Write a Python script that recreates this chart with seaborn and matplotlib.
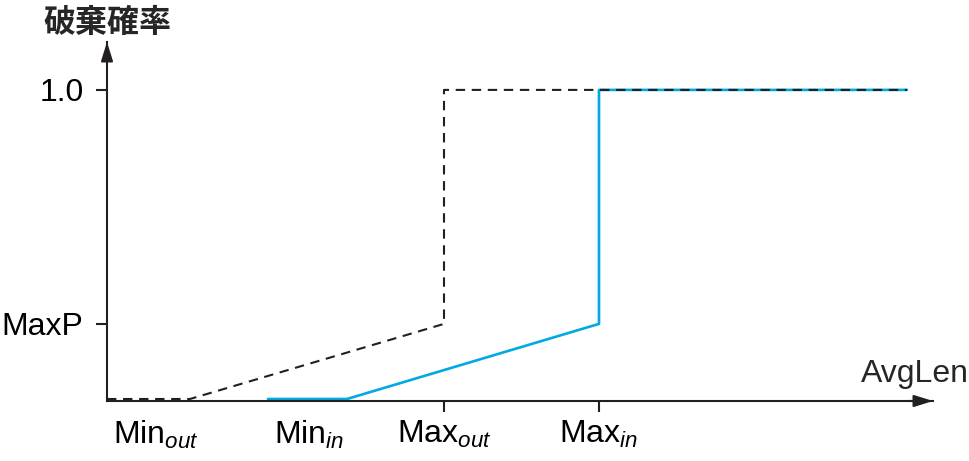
import matplotlib
matplotlib.use("Agg")
import matplotlib.pyplot as plt
import seaborn as sns
import pandas as pd

# schematic RED/RIO drop probability curves
max_p = 0.243
avglen_out = [0, 83, 337, 337, 800]
drop_out = [0, 0, max_p, 1.0, 1.0]
avglen_in = [161, 240, 492, 492, 800]
drop_in = [0, 0, max_p, 1.0, 1.0]

x_ticks = [337, 492]
x_ticklabels = [r'$\mathrm{Max}_{out}$', r'$\mathrm{Max}_{in}$']
x_min_pos = [49, 202]
x_min_labels = [r'$\mathrm{Min}_{out}$', r'$\mathrm{Min}_{in}$']
y_ticks = [max_p, 1.0]
y_ticklabels = ['MaxP', '1.0']

sns.set_style('white')
plt.rcParams['font.family'] = ['Liberation Sans', 'Noto Sans CJK JP', 'DejaVu Sans']
plt.rcParams['mathtext.fontset'] = 'custom'
plt.rcParams['mathtext.rm'] = 'Liberation Sans'
plt.rcParams['mathtext.it'] = 'Liberation Sans:italic'

ink = '#231f20'
blue = '#00a9e0'

df_out = pd.DataFrame({'AvgLen': avglen_out, 'p': drop_out})
df_in = pd.DataFrame({'AvgLen': avglen_in, 'p': drop_in})

fig = plt.figure(figsize=(9.7, 4.61), dpi=100)
ax = fig.add_axes([107 / 970, 60 / 461, 826 / 970, 359 / 461])

sns.lineplot(data=df_in, x='AvgLen', y='p', estimator=None, sort=False,
             color=blue, linewidth=1.9, ax=ax)
sns.lineplot(data=df_out, x='AvgLen', y='p', estimator=None, sort=False,
             color=ink, linewidth=1.5, linestyle=(0, (4.5, 3.2)), ax=ax)

ax.set_xlim(0, 826)
ax.set_ylim(-0.0065, 1.155)

for s in ['top', 'right']:
    ax.spines[s].set_visible(False)
for s in ['left', 'bottom']:
    ax.spines[s].set_color(ink)
    ax.spines[s].set_linewidth(1.5)

# arrow heads on the axes
arrow = dict(arrowstyle='-|>,head_length=1.15,head_width=0.36', color=ink,
             lw=1.5, shrinkA=0, shrinkB=0, mutation_scale=10)
ax.annotate('', xy=(1, 0), xytext=(0.97, 0), xycoords='axes fraction',
            arrowprops=arrow, annotation_clip=False)
ax.annotate('', xy=(0, 1), xytext=(0, 0.95), xycoords='axes fraction',
            arrowprops=arrow, annotation_clip=False)

ax.set_yticks(y_ticks)
ax.set_yticklabels(y_ticklabels)
ax.set_xticks(x_ticks)
ax.set_xticklabels(x_ticklabels)
ax.set_xticks(x_min_pos, minor=True)
ax.set_xticklabels(x_min_labels, minor=True)
ax.tick_params(axis='both', which='major', direction='out', length=8, width=1.5,
               color=ink, labelcolor='black', labelsize=23, pad=9,
               bottom=True, left=True)
ax.tick_params(axis='x', which='major', pad=5)
ax.tick_params(axis='x', which='minor', length=0, labelsize=23, pad=13,
               labelcolor='black', bottom=True)

ax.set_xlabel('')
ax.set_ylabel('')
ax.text(1.0436, 0.053, 'AvgLen', transform=ax.transAxes, ha='right',
        va='baseline', fontsize=23)
ax.text(0.0, 1.053, '破棄確率', transform=ax.transAxes, ha='center', va='center',
        fontsize=23, fontweight='bold', family=['Noto Sans CJK JP', 'DejaVu Sans'])

fig.savefig('out.png', dpi=100)
